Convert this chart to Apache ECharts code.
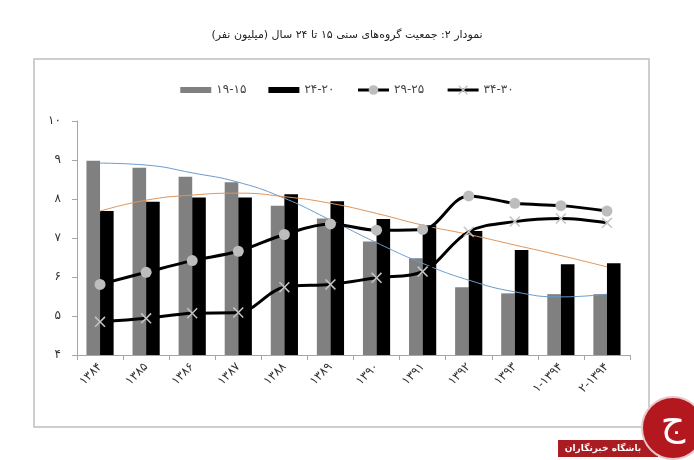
<!DOCTYPE html>
<html>
<head>
<meta charset="utf-8">
<script src="https://cdn.jsdelivr.net/npm/echarts@6/dist/echarts.min.js"></script>
<style>
  html, body { margin: 0; padding: 0; background: #fff; }
  #chart { width: 694px; height: 460px; }
</style>
</head>
<body>
<div id="chart"></div>
<script>
// categories (written in the visual order they show on the picture)
var years = ['۱۳۸۴', '۱۳۸۵', '۱۳۸۶', '۱۳۸۷', '۱۳۸۸', '۱۳۸۹', '۱۳۹۰', '۱۳۹۱', '۱۳۹۲', '۱۳۹۳', '۱-۱۳۹۴', '۲-۱۳۹۴'];

// age groups, million people
var age15_19 = [8.98, 8.80, 8.57, 8.43, 7.83, 7.50, 6.91, 6.48, 5.74, 5.58, 5.56, 5.56];
var age20_24 = [7.69, 7.93, 8.04, 8.04, 8.12, 7.94, 7.49, 7.33, 7.18, 6.69, 6.33, 6.35];
var age25_29 = [5.81, 6.12, 6.42, 6.66, 7.09, 7.36, 7.20, 7.22, 8.08, 7.89, 7.83, 7.69];
var age30_34 = [4.85, 4.94, 5.07, 5.09, 5.74, 5.81, 5.98, 6.14, 7.16, 7.42, 7.50, 7.39];

// trend lines
var trend15_19 = [8.92, 8.87, 8.67, 8.43, 8.02, 7.46, 6.88, 6.35, 5.92, 5.62, 5.49, 5.56];
var trend20_24 = [7.69, 7.97, 8.10, 8.15, 8.06, 7.89, 7.63, 7.33, 7.09, 6.82, 6.55, 6.26];

var yTicks = { min: 4, max: 10, step: 1 };

var names = ['\u202D۱۹-۱۵\u202C', '\u202D۲۴-۲۰\u202C', '\u202D۲۹-۲۵\u202C', '\u202D۳۴-۳۰\u202C'];

var titleText = 'نمودار ۲: جمعیت گروه‌های سنی ۱۵ تا ۲۴ سال (میلیون نفر)';

var faDigits = '۰۱۲۳۴۵۶۷۸۹';
function toFa(n) {
  return String(n).replace(/[0-9]/g, function (d) { return faDigits[+d]; });
}

var fontFa = '"DejaVu Sans", sans-serif';
var xMark = 'path://M0,1L1,0L10,9L9,10Z M9,0L10,1L1,10L0,9Z';
var barIcon = 'path://M0,0h31v6h-31z';

var chart = echarts.init(document.getElementById('chart'));

chart.setOption({
  backgroundColor: '#ffffff',
  animation: false,
  textStyle: { fontFamily: fontFa },
  title: {
    text: titleText,
    left: 'center',
    top: 25,
    textStyle: { fontSize: 11, fontWeight: 'normal', color: '#222', fontFamily: fontFa }
  },
  legend: {
    top: 79,
    left: 'center',
    itemWidth: 31,
    itemHeight: 12,
    itemGap: 22,
    data: [
      { name: names[0], icon: barIcon },
      { name: names[1], icon: barIcon },
      { name: names[2], lineStyle: { width: 3, color: '#000' } },
      { name: names[3], lineStyle: { width: 3, color: '#000' } }
    ],
    textStyle: { fontSize: 12, color: '#444', fontFamily: fontFa }
  },
  grid: {
    left: 77,
    right: 64,
    top: 121,
    bottom: 105
  },
  xAxis: {
    type: 'category',
    data: years,
    axisLine: { lineStyle: { color: '#a6a6a6', width: 1 } },
    axisTick: { show: true, length: 5, lineStyle: { color: '#a6a6a6' } },
    axisLabel: {
      rotate: 45,
      margin: 10,
      fontSize: 12,
      color: '#333',
      fontFamily: fontFa
    }
  },
  yAxis: {
    type: 'value',
    min: yTicks.min,
    max: yTicks.max,
    interval: yTicks.step,
    axisLine: { show: true, lineStyle: { color: '#a6a6a6', width: 1 } },
    axisTick: { show: true, length: 5, lineStyle: { color: '#a6a6a6' } },
    splitLine: { show: false },
    axisLabel: {
      margin: 16,
      fontSize: 12,
      color: '#333',
      fontFamily: fontFa,
      formatter: function (v) { return toFa(v); }
    }
  },
  series: [
    {
      name: names[0],
      type: 'bar',
      data: age15_19,
      barGap: '0%',
      barCategoryGap: '41%',
      itemStyle: { color: '#808080' },
      z: 2
    },
    {
      name: names[1],
      type: 'bar',
      data: age20_24,
      itemStyle: { color: '#000000' },
      z: 2
    },
    {
      name: 'trend1',
      type: 'line',
      data: trend15_19,
      smooth: 0.5,
      showSymbol: false,
      lineStyle: { color: '#6a9ccb', width: 1 },
      itemStyle: { color: '#6a9ccb' },
      z: 3
    },
    {
      name: 'trend2',
      type: 'line',
      data: trend20_24,
      smooth: 0.5,
      showSymbol: false,
      lineStyle: { color: '#e0955a', width: 1 },
      itemStyle: { color: '#e0955a' },
      z: 3
    },
    {
      name: names[2],
      type: 'line',
      data: age25_29,
      smooth: 0.35,
      symbol: 'circle',
      symbolSize: 11,
      lineStyle: { color: '#000', width: 3 },
      itemStyle: { color: '#bdbdbd' },
      z: 4
    },
    {
      name: names[3],
      type: 'line',
      data: age30_34,
      smooth: 0.35,
      symbol: xMark,
      symbolSize: 11,
      lineStyle: { color: '#000', width: 3 },
      itemStyle: { color: '#c4c4c4' },
      z: 4
    }
  ],
  graphic: [
    {
      type: 'rect',
      shape: { x: 34, y: 59, width: 615, height: 368 },
      style: { fill: 'none', stroke: '#bfbfbf', lineWidth: 1.5 },
      silent: true
    },
    {
      type: 'rect',
      shape: { x: 558, y: 440, width: 100, height: 17 },
      style: { fill: '#a81c22' },
      z: 10
    },
    {
      type: 'text',
      x: 603,
      y: 448.5,
      style: {
        text: 'باشگاه خبرنگاران',
        fill: '#fff',
        font: 'bold 9px "DejaVu Sans", sans-serif',
        align: 'center',
        verticalAlign: 'middle'
      },
      z: 11
    },
    {
      type: 'circle',
      shape: { cx: 673, cy: 428, r: 31 },
      style: { fill: '#b3181f', stroke: '#e8c8c8', lineWidth: 2 },
      z: 12
    },
    {
      type: 'text',
      x: 673,
      y: 424,
      style: {
        text: 'ج',
        fill: '#fff',
        font: '38px "DejaVu Sans", sans-serif',
        align: 'center',
        verticalAlign: 'middle'
      },
      z: 13
    }
  ]
});
</script>
</body>
</html>
